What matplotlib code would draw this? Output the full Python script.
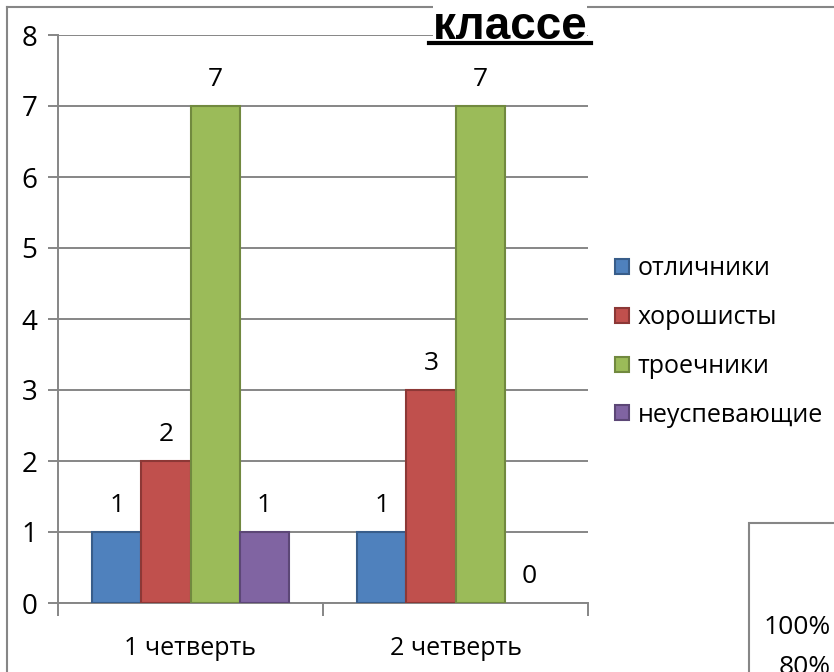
import matplotlib.pyplot as plt
import numpy as np
from matplotlib.lines import Line2D
from matplotlib.patches import Rectangle

# данные
quarters = ['1 четверть', '2 четверть']
series = ['отличники', 'хорошисты', 'троечники', 'неуспевающие']
otlichniki = [1, 1]
horoshisty = [2, 3]
troechniki = [7, 7]
neuspev = [1, 0]
values = [otlichniki, horoshisty, troechniki, neuspev]
y_ticks = [0, 1, 2, 3, 4, 5, 6, 7, 8]

colors = ['#4F81BD', '#C0504D', '#9BBB59', '#8064A2']
edges = ['#385D8A', '#8C3836', '#71893F', '#5C4776']

plt.rcParams['font.family'] = ['Open Sans', 'DejaVu Sans']
W, H = 834, 672
fig = plt.figure(figsize=(W / 100, H / 100), dpi=100)
ax = fig.add_axes([58 / W, 1 - 603 / H, (588 - 58) / W, (603 - 35) / H])

x = np.arange(len(quarters))
width = 0.185
for i, (name, vals) in enumerate(zip(series, values)):
    pos = x + (i - 1.5) * width
    ax.bar(pos, vals, width, color=colors[i], edgecolor=edges[i],
           linewidth=[1.5 if v else 0 for v in vals], label=name, zorder=3)
    for p, v in zip(pos, vals):
        ax.text(p, v + 0.2, str(v), ha='center', va='bottom', fontsize=19)

ax.set_xlim(-0.5, 1.5)
ax.set_ylim(0, 8)
ax.set_yticks(y_ticks)
ax.tick_params(axis='y', labelsize=20, length=7, color='#868686', width=1.4, pad=8)
ax.set_xticks(x)
ax.set_xticklabels(quarters, fontsize=18)
ax.tick_params(axis='x', length=0, pad=24)
ax.set_xticks([-0.5, 0.5, 1.5], minor=True)
ax.tick_params(axis='x', which='minor', length=9, color='#868686', width=1.4)
ax.grid(axis='y', color='#868686', linewidth=1.4, zorder=0)
ax.set_axisbelow(True)
for s in ['top', 'right']:
    ax.spines[s].set_visible(False)
for s in ['left', 'bottom']:
    ax.spines[s].set_color('#868686')
    ax.spines[s].set_linewidth(1.4)

ax.legend(loc='center left', bbox_to_anchor=(615 / W, 1 - 342 / H),
          bbox_transform=fig.transFigure, frameon=False, fontsize=18,
          handlelength=0.55, handleheight=0.55, handletextpad=0.35,
          labelspacing=0.95, borderpad=0, borderaxespad=0)

# рамка
fig.add_artist(Line2D([7 / W, 7 / W], [0, 1 - 7 / H], color='#868686', lw=1.5))
fig.add_artist(Line2D([7 / W, 1], [1 - 7 / H, 1 - 7 / H], color='#868686', lw=1.5))

# заголовок (обрезан)
fig.text(510 / W, 1 - 27 / H, 'классе', ha='center', va='center',
         fontsize=33, fontweight='bold', family='Liberation Sans',
         bbox=dict(facecolor='white', edgecolor='none', pad=0))
fig.add_artist(Line2D([429 / W, 591 / W], [1 - 43 / H, 1 - 43 / H],
                      color='black', lw=3, zorder=5))

# фрагмент другой диаграммы
fig.add_artist(Rectangle((749 / W, -0.1), 0.3, 1 - 523 / H + 0.1,
                         transform=fig.transFigure, facecolor='white',
                         edgecolor='#868686', lw=1.5))
fig.text(831 / W, 1 - 627 / H, '100%', ha='right', va='center', fontsize=19)
fig.text(831 / W, 1 - 668 / H, '80%', ha='right', va='center', fontsize=19)

fig.savefig('out.png', dpi=100)
